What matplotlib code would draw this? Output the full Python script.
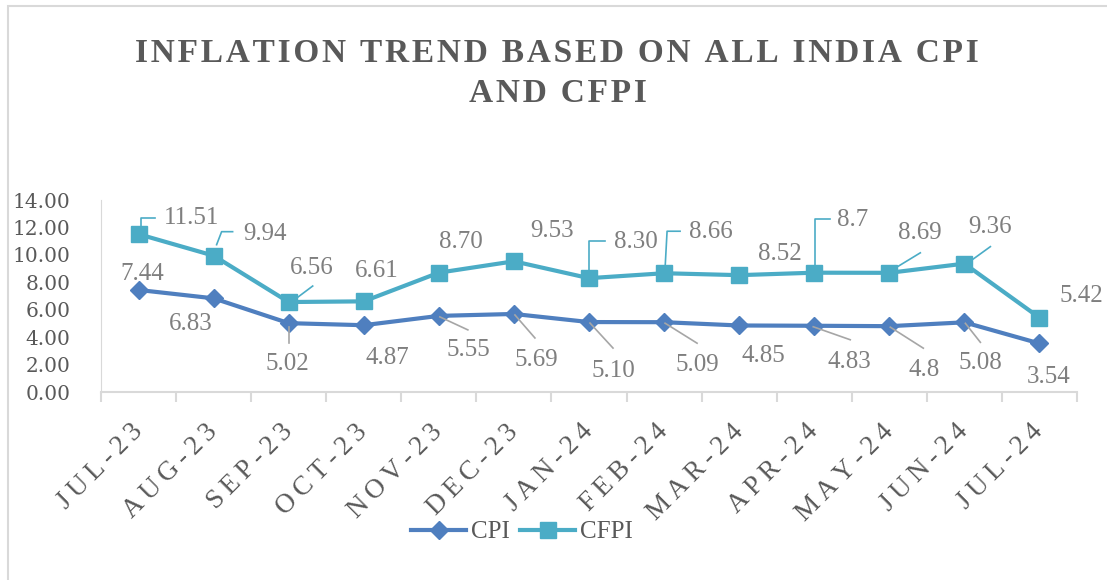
import numpy as np
import matplotlib
matplotlib.use('Agg')
import matplotlib.pyplot as plt
from matplotlib.lines import Line2D
from matplotlib.patches import Rectangle
from matplotlib.transforms import IdentityTransform, ScaledTranslation

months = ['JUL-23', 'AUG-23', 'SEP-23', 'OCT-23', 'NOV-23', 'DEC-23', 'JAN-24',
          'FEB-24', 'MAR-24', 'APR-24', 'MAY-24', 'JUN-24', 'JUL-24']
cpi = [7.44, 6.83, 5.02, 4.87, 5.55, 5.69, 5.10, 5.09, 4.85, 4.83, 4.8, 5.08, 3.54]
cfpi = [11.51, 9.94, 6.56, 6.61, 8.70, 9.53, 8.30, 8.66, 8.52, 8.7, 8.69, 9.36, 5.42]
cpi_labels = ['7.44', '6.83', '5.02', '4.87', '5.55', '5.69', '5.10', '5.09', '4.85',
              '4.83', '4.8', '5.08', '3.54']
cfpi_labels = ['11.51', '9.94', '6.56', '6.61', '8.70', '9.53', '8.30', '8.66', '8.52',
               '8.7', '8.69', '9.36', '5.42']

# label placement (pixels from the point, y up) and leader lines, Excel style
cfpi_off = [(53, 16), (51, 22), (23, 34), (13, 30), (22, 31), (38, 30), (47, 36),
            (47, 41), (41, 21), (38, 53), (31, 40), (26, 37), (42, 22)]
cpi_off = [(4, 16), (-23, -26), (-1, -41), (24, -33), (30, -34), (22, -46), (24, -49),
           (33, -43), (24, -31), (35, -36), (35, -44), (16, -41), (9, -34)]
cfpi_lead = {0: [(2, 7), (2, 16), (16, 16)], 1: [(3, 11), (8, 24), (19, 24)],
             2: [(8, 4), (24, 16)], 6: [(0, 8), (0, 37), (16, 37)],
             7: [(1, 5), (3, 42), (16, 42)], 9: [(1, 5), (1, 54), (16, 54)],
             10: [(8, 6), (31, 20)], 11: [(8, 4), (26, 17)]}
cpi_lead = {2: [(0, -4), (0, -20)], 4: [(1, -1), (29, -14)], 5: [(1, -1), (21, -24)],
            6: [(1, -1), (24, -26)], 7: [(1, -1), (33, -21)], 9: [(-1, -1), (36, -14)],
            10: [(1, -1), (34, -22)], 11: [(1, -1), (16, -20)]}

blue = '#4f7fbf'
teal = '#4bacc6'
dark = '#595959'
grey = '#7f7f7f'
serif = ['Liberation Serif', 'DejaVu Serif']

def spaced(s, sep='\u2009'):
    return sep.join(s)

fig = plt.figure(figsize=(11.07, 5.80), dpi=100)
ax = fig.add_axes([101/1107, 1-392/580, (1077-101)/1107, 192/580])

x = np.arange(len(months))
ax.plot(x, cpi, color=blue, lw=3, marker='D', ms=9, label='CPI', zorder=3)
ax.plot(x, cfpi, color=teal, lw=3, marker='s', ms=11, label='CFPI', zorder=3)

ax.set_xlim(-0.5, len(months) - 0.5)
ax.set_ylim(0, 14)
ax.set_yticks(np.arange(0, 15, 2))
ax.set_yticklabels(['%.2f' % v for v in np.arange(0, 15, 2)], fontsize=14.5,
                   family='DejaVu Serif', color=dark)
ax.set_xticks(x)
ax.set_xticklabels([spaced(m) for m in months], rotation=45, ha='right',
                   va='center', rotation_mode='anchor', fontsize=19.5, family=serif, color=dark)
for lab in ax.get_xticklabels():
    lab.set_transform(lab.get_transform() + ScaledTranslation(5.4/72, 0, fig.dpi_scale_trans))
ax.set_xticks(np.arange(-0.5, len(months)), minor=True)
ax.tick_params(axis='x', which='major', length=0, pad=26)
ax.tick_params(axis='x', which='minor', length=7, color='#d9d9d9', width=1.5)
ax.tick_params(axis='y', length=0, pad=22)
for s in ['top', 'right']:
    ax.spines[s].set_visible(False)
ax.spines['left'].set_color('#d9d9d9')
ax.spines['bottom'].set_color('#d9d9d9')
ax.spines['bottom'].set_linewidth(1.5)

fig.canvas.draw()

def add_labels(vals, labels, offs, leads, lcolor):
    for i, v in enumerate(vals):
        X, Y = ax.transData.transform((i, v))
        dx, dy = offs[i]
        fig.text(X + dx, Y + dy, labels[i], transform=IdentityTransform(),
                 ha='center', va='center', fontsize=18, family=serif, color=grey)
        if i in leads:
            pts = leads[i]
            fig.add_artist(Line2D([X + p[0] for p in pts], [Y + p[1] for p in pts],
                                  transform=IdentityTransform(), color=lcolor, lw=1.2))

add_labels(cfpi, cfpi_labels, cfpi_off, cfpi_lead, teal)
add_labels(cpi, cpi_labels, cpi_off, cpi_lead, '#a6a6a6')

fig.text(557/1107, 1-54/580, spaced('INFLATION TREND BASED ON ALL INDIA CPI', '\u200a'),
         ha='center', va='center', fontsize=24, fontweight='bold', family=serif, color=dark)
fig.text(558/1107, 1-93/580, spaced('AND CFPI', '\u200a'),
         ha='center', va='center', fontsize=24, fontweight='bold', family=serif, color=dark)

fig.legend(loc='center', bbox_to_anchor=(522/1107, 1-532/580), ncol=2, frameon=False,
           prop={'family': serif, 'size': 18}, labelcolor=dark, handlelength=2.2,
           handletextpad=0.2, columnspacing=0.4)

fig.add_artist(Rectangle((8/1107, -0.1), 1.2, 1.1 - 6/580, transform=fig.transFigure,
                         fill=False, edgecolor='#d9d9d9', lw=1.5))

fig.savefig('out.png', dpi=100)
